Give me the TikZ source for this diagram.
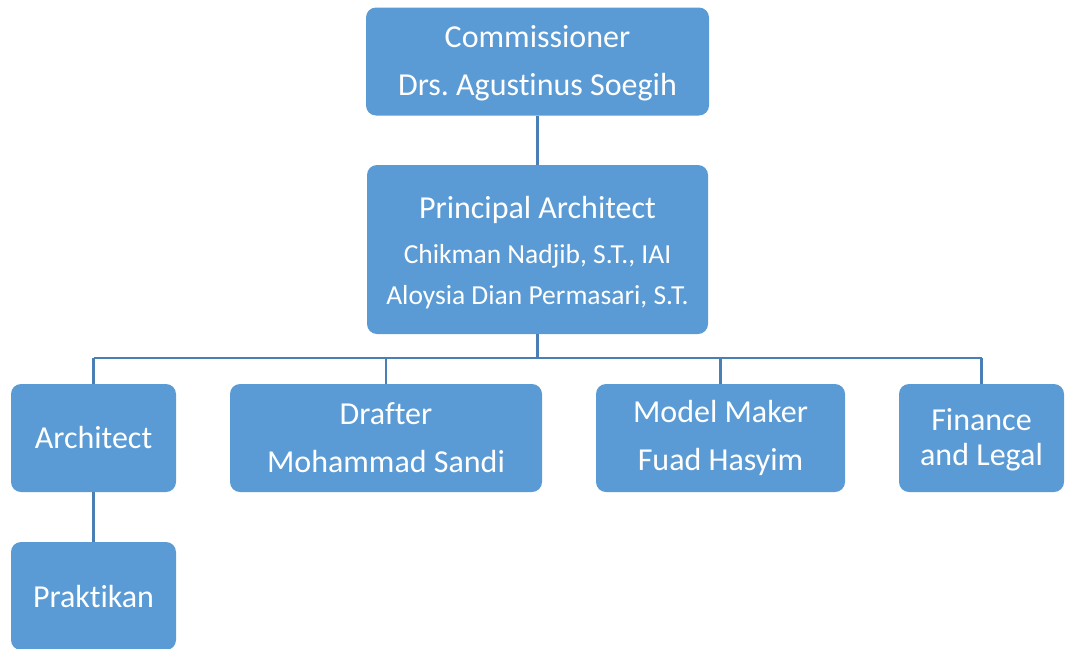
\documentclass[tikz,border=0pt]{standalone}
\usepackage{fontspec}
\setmainfont{Carlito}[Ligatures=NoCommon]
\frenchspacing
\definecolor{boxblue}{HTML}{5B9BD5}
\definecolor{lineblue}{HTML}{4A7FB5}
\newcommand{\topgap}[1]{\rule{0pt}{#1}}
\begin{document}
\begin{tikzpicture}[x=1pt,y=-1pt,
    box/.style={fill=boxblue,text=white,rounded corners=10pt,inner sep=0pt,
      align=center,minimum height=108pt,font=\fontsize{32}{48}\selectfont},
    link/.style={draw=lineblue,line width=2.6pt}]
  \useasboundingbox (0,0) rectangle (1065,648);
  \draw
    (537.5,61.5) node[box,minimum width=343pt] (comm){\topgap{26pt}Commissioner\\Drs. Agustinus Soegih}
    (537.5,249.5) node[box,minimum width=341pt,minimum height=169pt] (princ)
      {\topgap{29pt}Principal Architect\\[-3pt]{\fontsize{27.5}{42}\selectfont Chikman Nadjib, S.T., IAI}\\[-7pt]
       {\fontsize{27.5}{42}\selectfont Aloysia Dian Permasari, S.T.}}
    (93.5,438) node[box,minimum width=165pt] (arch){Architect}
    (386,438) node[box,minimum width=312pt] (draft){Drafter\\Mohammad Sandi}
    (720.5,438) node[box,minimum width=249pt] (model){Model Maker\\Fuad Hasyim}
    (981.5,438) node[box,minimum width=165pt,font=\fontsize{32}{35}\selectfont] (fin){\topgap{25pt}Finance\\and Legal}
    (93.5,596) node[box,minimum width=165pt] (prak){Praktikan};
  \coordinate (bus) at (537.5,358);
  \begin{scope}[link]
    \draw (comm) to (princ);
    \draw (princ) to (bus);
    \draw (arch.north |- bus) to (fin.north |- bus);
    \draw (arch.north |- bus) to (arch);
    \draw (draft.north |- bus) to (draft);
    \draw (model.north |- bus) to (model);
    \draw (fin.north |- bus) to (fin);
    \draw (arch) to (prak);
  \end{scope}
\end{tikzpicture}
\end{document}
